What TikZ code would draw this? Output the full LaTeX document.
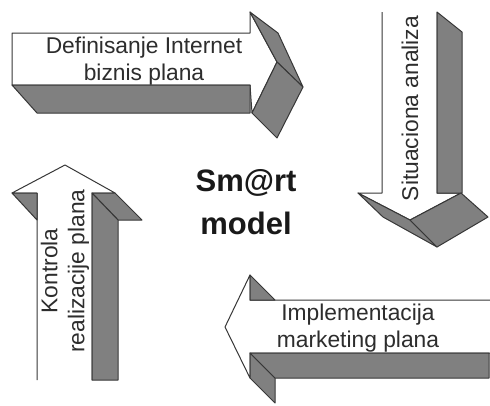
\documentclass[tikz,border=0pt]{standalone}
\usepackage{fontspec}
\setmainfont{Liberation Sans}
\definecolor{facegray}{RGB}{128,128,128}
\definecolor{edgec}{RGB}{55,55,55}
\definecolor{txtc}{RGB}{45,45,45}
\begin{document}
\begin{tikzpicture}[x=1pt,y=-1pt,
  face/.style={fill=facegray,draw=edgec,line width=1pt,line join=round},
  frontface/.style={fill=white},
  edge/.style={draw=edgec,line width=1pt,line join=round},
  lbl/.style={font=\fontsize{22.8}{27}\selectfont,text=txtc,align=center,inner sep=0pt},
  title/.style={font=\fontsize{31}{43}\selectfont\bfseries,text=black!90,align=center,inner sep=0pt}]
\useasboundingbox[fill=white] (0,0) rectangle (490,405);
% ---------- arrow 1 (top, pointing right)
\path[frontface,edge] (12,33) -- (250,33) -- (250,12) -- (277,62) -- (252,113) -- (250,85) -- (12,85) -- cycle;
\path[face] (12,85) -- (250,85) -- (250,113) -- (37,113) -- cycle;
\path[face] (250,12) -- (278,33) -- (303,87) -- (277,62) -- cycle;
\path[face] (277,62) -- (303,87) -- (277,138) -- (252,113) -- cycle;
% ---------- arrow 2 (right, pointing down)
\fill[white] (382,12) -- (437,12) -- (437,193) -- (461,193) -- (410,220) -- (358,193) -- (382,193) -- cycle;
\draw[edge] (437,12) -- (437,193) -- (461,193) -- (410,220) -- (358,193) -- (382,193) -- (382,12);
\path[face] (437,12) -- (462,32) -- (462,193) -- (437,193) -- cycle;
\path[face] (358,193) -- (410,220) -- (437,247) -- (383,217) -- cycle;
\path[face] (410,220) -- (461,193) -- (488,217) -- (437,247) -- cycle;
% ---------- arrow 3 (left, pointing up)
\fill[white] (37,380) -- (37,193) -- (12,193) -- (65,165) -- (115,193) -- (92,193) -- (92,380) -- cycle;
\draw[edge] (37,380) -- (37,193) -- (12,193) -- (65,165) -- (115,193) -- (92,193) -- (92,380);
\path[face] (12,193) -- (37,193) -- (37,220) -- cycle;
\path[face] (92,193) -- (115,193) -- (142,220) -- (118,220) -- cycle;
\path[face] (92,193) -- (118,220) -- (118,380) -- (92,380) -- cycle;
% ---------- arrow 4 (bottom, pointing left)
\fill[white] (490,300) -- (250,300) -- (250,275) -- (225,327) -- (250,378) -- (250,353) -- (490,353) -- cycle;
\draw[edge] (490,300) -- (250,300) -- (250,275) -- (225,327) -- (250,378) -- (250,353) -- (490,353);
\path[face] (250,275) -- (250,300) -- (275,300) -- cycle;
\path[face] (250,353) -- (275,378) -- (275,403) -- (250,378) -- cycle;
\path[face] (250,353) -- (489,353) -- (489,378) -- (275,378) -- cycle;
% ---------- labels
\node[lbl] (t1) at (144,61) {Definisanje Internet\\biznis plana};
\node[lbl,rotate=90,anchor=base] (t2) at (418,108.5) {Situaciona analiza};
\node[lbl,rotate=90] (t3) at (65,271) {Kontrola\\realizacije plana};
\node[lbl] (t4) at (358,328) {Implementacija\\marketing plana};
\node[title] (tc) at (246,202.5) {Sm@rt\\model};
\end{tikzpicture}
\end{document}
